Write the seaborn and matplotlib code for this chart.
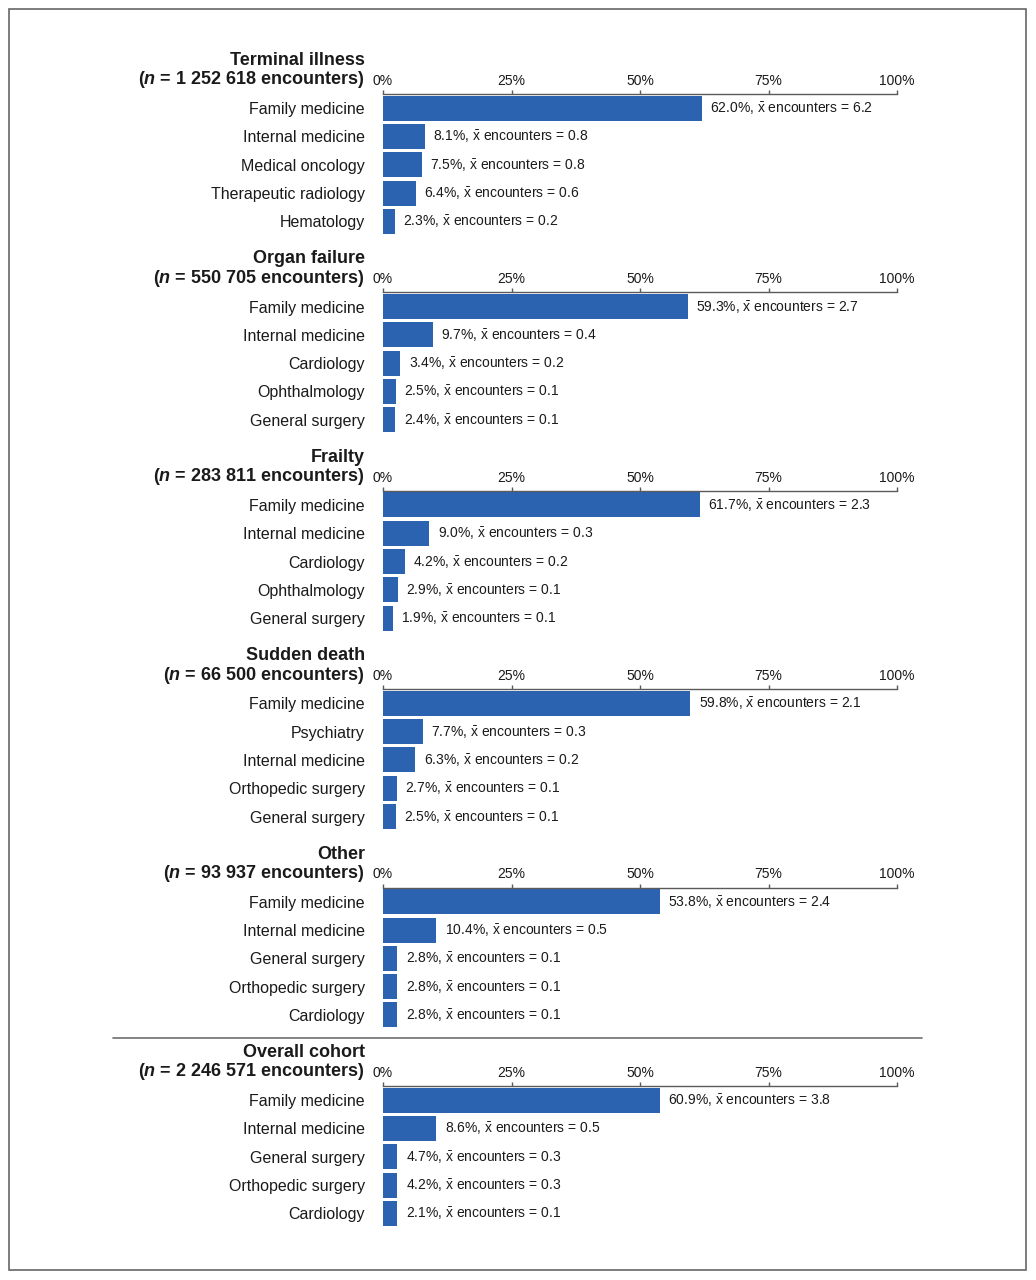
import matplotlib
matplotlib.use("Agg")
import matplotlib.pyplot as plt
from matplotlib.patches import Rectangle
from matplotlib.lines import Line2D
import seaborn as sns

# panel headings
groups = ["Terminal illness", "Organ failure", "Frailty", "Sudden death", "Other", "Overall cohort"]
group_n = ["1 252 618", "550 705", "283 811", "66 500", "93 937", "2 246 571"]

# specialties per panel
terminal_cats = ["Family medicine", "Internal medicine", "Medical oncology", "Therapeutic radiology", "Hematology"]
organ_cats = ["Family medicine", "Internal medicine", "Cardiology", "Ophthalmology", "General surgery"]
frailty_cats = ["Family medicine", "Internal medicine", "Cardiology", "Ophthalmology", "General surgery"]
sudden_cats = ["Family medicine", "Psychiatry", "Internal medicine", "Orthopedic surgery", "General surgery"]
other_cats = ["Family medicine", "Internal medicine", "General surgery", "Orthopedic surgery", "Cardiology"]
overall_cats = ["Family medicine", "Internal medicine", "General surgery", "Orthopedic surgery", "Cardiology"]

# percent of encounters (as printed)
terminal_pct = [62.0, 8.1, 7.5, 6.4, 2.3]
organ_pct = [59.3, 9.7, 3.4, 2.5, 2.4]
frailty_pct = [61.7, 9.0, 4.2, 2.9, 1.9]
sudden_pct = [59.8, 7.7, 6.3, 2.7, 2.5]
other_pct = [53.8, 10.4, 2.8, 2.8, 2.8]
overall_pct = [60.9, 8.6, 4.7, 4.2, 2.1]

# bar lengths as drawn (overall cohort bars in the source repeat the "Other" bars)
overall_drawn = [53.8, 10.4, 2.8, 2.8, 2.8]

# mean encounters
terminal_mean = [6.2, 0.8, 0.8, 0.6, 0.2]
organ_mean = [2.7, 0.4, 0.2, 0.1, 0.1]
frailty_mean = [2.3, 0.3, 0.2, 0.1, 0.1]
sudden_mean = [2.1, 0.3, 0.2, 0.1, 0.1]
other_mean = [2.4, 0.5, 0.1, 0.1, 0.1]
overall_mean = [3.8, 0.5, 0.3, 0.3, 0.1]

ticks = [0, 25, 50, 75, 100]

panels = [
    (terminal_cats, terminal_pct, terminal_pct, terminal_mean),
    (organ_cats, organ_pct, organ_pct, organ_mean),
    (frailty_cats, frailty_pct, frailty_pct, frailty_mean),
    (sudden_cats, sudden_pct, sudden_pct, sudden_mean),
    (other_cats, other_pct, other_pct, other_mean),
    (overall_cats, overall_drawn, overall_pct, overall_mean),
]

sns.set_style("white")
plt.rcParams["font.family"] = ["Liberation Sans", "DejaVu Sans"]
plt.rcParams["mathtext.fontset"] = "custom"
plt.rcParams["mathtext.it"] = "Liberation Sans:bold:italic"
plt.rcParams["mathtext.rm"] = "Liberation Sans"

BLUE = "#2b63b0"
TXT = "#1a1a1a"
GRAY = "#5a5a5a"

W, H = 1036, 1280
fig = plt.figure(figsize=(W / 100, H / 100), dpi=100)

ax_left = 383
ax_w = 514
ax_h = 141.5
pitch = 198.4
top0 = 94

for k, (cats, drawn, pct, mean) in enumerate(panels):
    top = top0 + k * pitch
    ax = fig.add_axes([ax_left / W, 1 - (top + ax_h) / H, ax_w / W, ax_h / H])
    sns.barplot(x=drawn, y=cats, orient="h", color=BLUE, width=0.88,
                saturation=1, ax=ax, edgecolor="none")
    ax.set_xlim(0, 100)
    ax.set_ylim(4.5, -0.5)
    ax.set_xticks(ticks)
    ax.set_xticklabels([f"{t}%" for t in ticks], fontsize=10, color=TXT)
    ax.tick_params(axis="x", top=True, bottom=False, labeltop=True, labelbottom=False,
                   direction="out", length=3, width=1, color=GRAY, pad=1.5)
    ax.tick_params(axis="y", length=0, pad=13, labelsize=11.5, labelcolor=TXT)
    for s in ["left", "right", "bottom"]:
        ax.spines[s].set_visible(False)
    ax.spines["top"].set_color(GRAY)
    ax.spines["top"].set_linewidth(1)
    ax.set_xlabel("")
    ax.set_ylabel("")
    ax.grid(False)

    for i, (v, p, m) in enumerate(zip(drawn, pct, mean)):
        ax.annotate(f"{p:.1f}%, " + r"$\bar{\mathrm{x}}$" + f" encounters = {m:.1f}",
                    xy=(v, i), xytext=(6, -0.5), textcoords="offset points",
                    va="center", ha="left", fontsize=10, color=TXT)

    # two-line heading, right aligned
    fig.text(365 / W, 1 - (top - 29) / H, groups[k], ha="right", va="baseline",
             fontsize=13, fontweight="bold", color=TXT)
    fig.text(365 / W, 1 - (top - 9.5) / H, f"($n$ = {group_n[k]} encounters)",
             ha="right", va="baseline", fontsize=13, fontweight="bold", color=TXT)

# separator above the overall cohort
fig.add_artist(Line2D([113 / W, 922 / W], [1 - 1038 / H, 1 - 1038 / H],
                      transform=fig.transFigure, color="#6e6e6e", lw=1.2))

# outer frame
fig.add_artist(Rectangle((9 / W, 1 - 1270 / H), 1017 / W, 1261 / H,
                         transform=fig.transFigure, fill=False,
                         edgecolor="#666666", lw=1.2))

fig.savefig("out.png", dpi=100, facecolor="white")
